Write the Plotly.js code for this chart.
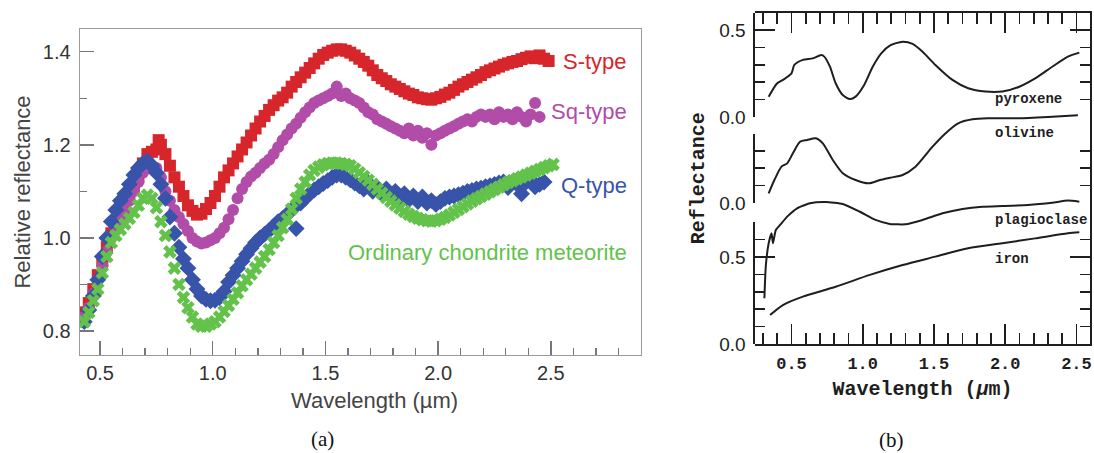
<!DOCTYPE html>
<html>
<head>
<meta charset="utf-8">
<script src="https://cdn.plot.ly/plotly-3.0.1.min.js"></script>
<style>html,body{margin:0;padding:0;background:#fff;}#chart{width:1094px;height:453px;}</style>
</head>
<body>
<div id="chart"></div>
<script>
// ---------- Panel (a): asteroid / meteorite spectra ----------
const sWave = [0.43,0.45,0.47,0.49,0.51,0.53,0.55,0.57,0.59,0.61,
  0.63,0.65,0.67,0.69,0.71,0.73,0.75,0.76,0.77,0.79,
  0.81,0.83,0.85,0.87,0.89,0.91,0.93,0.95,0.97,0.99,
  1.01,1.03,1.05,1.07,1.09,1.11,1.13,1.15,1.17,1.19,
  1.21,1.23,1.25,1.27,1.29,1.31,1.33,1.35,1.37,1.39,
  1.41,1.43,1.45,1.47,1.49,1.51,1.53,1.55,1.57,1.59,
  1.61,1.63,1.65,1.67,1.69,1.71,1.73,1.75,1.77,1.79,
  1.81,1.83,1.85,1.87,1.89,1.91,1.93,1.95,1.97,1.99,
  2.01,2.03,2.05,2.07,2.09,2.11,2.13,2.15,2.17,2.19,
  2.21,2.23,2.25,2.27,2.29,2.31,2.33,2.35,2.37,2.39,
  2.41,2.43,2.45,2.47,2.49];
const sRefl = [0.84,0.86,0.89,0.92,0.95,0.98,1.01,1.03,1.05,1.07,
  1.09,1.11,1.13,1.16,1.18,1.185,1.19,1.21,1.20,1.18,
  1.155,1.13,1.11,1.09,1.07,1.058,1.05,1.052,1.062,1.075,
  1.09,1.11,1.13,1.145,1.16,1.175,1.19,1.205,1.22,1.235,
  1.25,1.262,1.275,1.285,1.295,1.302,1.312,1.325,1.335,1.345,
  1.355,1.365,1.375,1.385,1.393,1.398,1.402,1.405,1.405,1.402,
  1.398,1.392,1.385,1.378,1.37,1.36,1.35,1.343,1.337,1.33,
  1.325,1.32,1.315,1.31,1.307,1.302,1.30,1.298,1.297,1.30,
  1.303,1.308,1.312,1.318,1.325,1.33,1.335,1.34,1.345,1.35,
  1.356,1.36,1.364,1.368,1.372,1.375,1.378,1.38,1.384,1.387,
  1.39,1.386,1.392,1.385,1.38];

const sqWave = [0.43,0.45,0.47,0.49,0.51,0.53,0.55,0.57,0.59,0.61,
  0.63,0.65,0.67,0.69,0.71,0.73,0.75,0.77,0.79,0.81,
  0.83,0.85,0.87,0.89,0.91,0.93,0.95,0.97,0.99,1.01,
  1.03,1.05,1.07,1.09,1.11,1.13,1.15,1.17,1.19,1.21,
  1.23,1.25,1.27,1.29,1.31,1.33,1.35,1.37,1.39,1.41,
  1.43,1.45,1.47,1.49,1.51,1.53,1.55,1.57,1.59,1.61,
  1.63,1.65,1.67,1.69,1.71,1.73,1.75,1.77,1.79,1.81,
  1.83,1.85,1.87,1.89,1.91,1.93,1.95,1.97,1.99,2.01,
  2.03,2.05,2.07,2.09,2.11,2.13,2.15,2.17,2.19,2.21,
  2.23,2.25,2.27,2.29,2.31,2.33,2.35,2.37,2.39,2.41,
  2.43,2.45];
const sqRefl = [0.83,0.85,0.88,0.91,0.94,0.97,1.00,1.02,1.04,1.06,
  1.08,1.10,1.12,1.14,1.15,1.155,1.15,1.13,1.10,1.08,
  1.06,1.045,1.03,1.015,1.00,0.992,0.988,0.99,0.995,1.0,
  1.01,1.022,1.04,1.06,1.085,1.105,1.12,1.132,1.14,1.15,
  1.16,1.168,1.18,1.195,1.21,1.222,1.235,1.245,1.258,1.27,
  1.28,1.29,1.295,1.30,1.305,1.31,1.325,1.305,1.31,1.30,
  1.295,1.29,1.28,1.27,1.265,1.255,1.25,1.245,1.24,1.235,
  1.23,1.225,1.235,1.22,1.23,1.215,1.225,1.20,1.22,1.225,
  1.23,1.235,1.24,1.245,1.25,1.255,1.25,1.26,1.265,1.26,
  1.265,1.255,1.27,1.26,1.265,1.255,1.27,1.26,1.25,1.265,
  1.29,1.26];

const qWave = [0.43,0.45,0.47,0.49,0.51,0.53,0.55,0.57,0.59,0.61,
  0.63,0.65,0.67,0.69,0.71,0.73,0.75,0.77,0.79,0.81,
  0.83,0.85,0.87,0.89,0.91,0.93,0.95,0.97,0.99,1.01,
  1.03,1.05,1.07,1.09,1.11,1.13,1.15,1.17,1.19,1.21,
  1.23,1.25,1.27,1.29,1.31,1.33,1.35,1.37,1.39,1.41,
  1.43,1.45,1.47,1.49,1.51,1.53,1.55,1.57,1.59,1.61,
  1.63,1.65,1.67,1.69,1.71,1.73,1.75,1.77,1.79,1.81,
  1.83,1.85,1.87,1.89,1.91,1.93,1.95,1.97,1.99,2.01,
  2.03,2.05,2.07,2.09,2.11,2.13,2.15,2.17,2.19,2.21,
  2.23,2.25,2.27,2.29,2.31,2.33,2.35,2.37,2.39,2.41,
  2.43,2.45,2.47];
const qRefl = [0.82,0.845,0.875,0.91,0.96,1.0,1.035,1.06,1.08,1.095,
  1.115,1.135,1.15,1.16,1.165,1.155,1.14,1.115,1.085,1.045,
  1.01,0.98,0.955,0.935,0.91,0.89,0.875,0.868,0.865,0.866,
  0.872,0.885,0.905,0.92,0.935,0.95,0.965,0.978,0.99,1.0,
  1.008,1.016,1.025,1.035,1.042,1.05,1.06,1.02,1.075,1.085,
  1.095,1.103,1.11,1.117,1.123,1.13,1.135,1.135,1.13,1.125,
  1.118,1.112,1.105,1.118,1.10,1.108,1.095,1.105,1.09,1.10,
  1.088,1.095,1.082,1.09,1.078,1.088,1.075,1.08,1.072,1.078,
  1.085,1.088,1.09,1.093,1.096,1.10,1.102,1.105,1.107,1.11,
  1.112,1.115,1.118,1.12,1.108,1.12,1.115,1.095,1.12,1.125,
  1.11,1.115,1.12];

const ocWave = [0.43,0.45,0.47,0.49,0.51,0.53,0.55,0.57,0.59,0.61,
  0.63,0.65,0.67,0.69,0.71,0.73,0.75,0.77,0.79,0.81,
  0.83,0.85,0.87,0.89,0.91,0.93,0.95,0.97,0.99,1.01,
  1.03,1.05,1.07,1.09,1.11,1.13,1.15,1.17,1.19,1.21,
  1.23,1.25,1.27,1.29,1.31,1.33,1.35,1.37,1.39,1.41,
  1.43,1.45,1.47,1.49,1.51,1.53,1.55,1.57,1.59,1.61,
  1.63,1.65,1.67,1.69,1.71,1.73,1.75,1.77,1.79,1.81,
  1.83,1.85,1.87,1.89,1.91,1.93,1.95,1.97,1.99,2.01,
  2.03,2.05,2.07,2.09,2.11,2.13,2.15,2.17,2.19,2.21,
  2.23,2.25,2.27,2.29,2.31,2.33,2.35,2.37,2.39,2.41,
  2.43,2.45,2.47,2.49,2.51];
const ocRefl = [0.82,0.84,0.865,0.89,0.925,0.96,0.99,1.005,1.018,1.03,
  1.042,1.055,1.07,1.085,1.092,1.085,1.065,1.035,1.005,0.97,
  0.935,0.90,0.872,0.85,0.83,0.815,0.81,0.81,0.815,0.82,
  0.83,0.842,0.855,0.868,0.882,0.897,0.91,0.922,0.935,0.948,
  0.96,0.975,0.99,1.005,1.022,1.04,1.062,1.085,1.105,1.12,
  1.135,1.145,1.152,1.157,1.16,1.161,1.161,1.16,1.158,1.155,
  1.148,1.14,1.132,1.124,1.115,1.105,1.096,1.087,1.079,1.071,
  1.064,1.057,1.051,1.046,1.042,1.039,1.037,1.036,1.037,1.04,
  1.044,1.049,1.055,1.061,1.067,1.073,1.079,1.084,1.089,1.094,
  1.099,1.104,1.109,1.114,1.119,1.123,1.127,1.131,1.135,1.139,
  1.143,1.147,1.151,1.155,1.158];
const sqErr = 0.012;

// ---------- Panel (b): laboratory mineral spectra ----------
const pyxWave = [0.34,0.40,0.44,0.50,0.52,0.58,0.65,0.71,0.73,0.77,0.81,0.86,0.91,0.95,1.01,1.07,1.13,1.19,1.28,1.35,1.42,1.51,1.63,1.74,1.86,1.98,2.09,2.21,2.33,2.44,2.52];
const pyxRefl = [0.117,0.194,0.213,0.251,0.299,0.328,0.337,0.356,0.347,0.289,0.194,0.126,0.103,0.117,0.184,0.289,0.366,0.41,0.433,0.42,0.375,0.299,0.213,0.165,0.146,0.146,0.171,0.222,0.289,0.347,0.37];
const olWave = [0.34,0.38,0.43,0.47,0.51,0.56,0.61,0.67,0.72,0.79,0.86,0.95,1.04,1.12,1.19,1.28,1.37,1.49,1.58,1.67,1.77,1.88,2.09,2.33,2.51];
const olRefl = [0.056,0.132,0.209,0.228,0.286,0.352,0.362,0.372,0.343,0.247,0.171,0.132,0.113,0.132,0.145,0.161,0.209,0.324,0.40,0.458,0.481,0.487,0.487,0.496,0.504];
const plWave = [0.31,0.32,0.34,0.36,0.37,0.39,0.42,0.47,0.54,0.63,0.74,0.86,0.98,1.09,1.19,1.30,1.42,1.56,1.70,1.84,1.98,2.16,2.33,2.44,2.52];
const plRefl = [0.263,0.45,0.579,0.636,0.579,0.655,0.684,0.732,0.78,0.809,0.816,0.805,0.76,0.713,0.69,0.688,0.713,0.751,0.776,0.789,0.793,0.799,0.812,0.824,0.818];
const feWave = [0.35,0.44,0.58,0.81,1.05,1.28,1.51,1.74,1.98,2.21,2.44,2.52];
const feRefl = [0.167,0.224,0.272,0.329,0.397,0.454,0.502,0.55,0.579,0.607,0.636,0.642];

const seriesLabels = ['S-type','Sq-type','Q-type','Ordinary chondrite meteorite'];
const mineralLabels = ['pyroxene','olivine','plagioclase','iron'];

// ---------- styling ----------
const W = 1094, H = 453;
const px = v => v / W, py = v => 1 - v / H;
const SANS = 'Liberation Sans, Arial, Helvetica, sans-serif';
const MONO = 'Liberation Mono, Courier New, monospace';
const SERIF = 'Liberation Serif, Times New Roman, serif';
const cRed = '#d7262b', cMag = '#b24ca9', cBlue = '#3754aa', cGreen = '#63c24a';
const ink = '#1e1e1e';

const traces = [
  {x: sWave, y: sRefl, mode: 'markers', xaxis: 'x', yaxis: 'y', name: seriesLabels[0],
   marker: {symbol: 'square', size: 12, color: cRed}},
  {x: sqWave, y: sqRefl, mode: 'markers', xaxis: 'x', yaxis: 'y', name: seriesLabels[1],
   marker: {symbol: 'circle', size: 12, color: cMag},
   error_y: {type: 'constant', value: sqErr, thickness: 1, width: 0, color: 'rgba(178,76,169,0.6)'}},
  {x: qWave, y: qRefl, mode: 'markers', xaxis: 'x', yaxis: 'y', name: seriesLabels[2],
   marker: {symbol: 'diamond', size: 13, color: cBlue}},
  {x: ocWave, y: ocRefl, mode: 'markers', xaxis: 'x', yaxis: 'y', name: seriesLabels[3],
   marker: {symbol: 'x', size: 12, color: cGreen}},
  {x: pyxWave, y: pyxRefl, mode: 'lines', xaxis: 'x2', yaxis: 'y2', name: mineralLabels[0],
   line: {color: ink, width: 2, shape: 'spline', smoothing: 0.7}},
  {x: olWave, y: olRefl, mode: 'lines', xaxis: 'x2', yaxis: 'y3', name: mineralLabels[1],
   line: {color: ink, width: 2, shape: 'spline', smoothing: 0.7}},
  {x: plWave, y: plRefl, mode: 'lines', xaxis: 'x2', yaxis: 'y4', name: mineralLabels[2],
   line: {color: ink, width: 2, shape: 'spline', smoothing: 0.5}},
  {x: feWave, y: feRefl, mode: 'lines', xaxis: 'x2', yaxis: 'y4', name: mineralLabels[3],
   line: {color: ink, width: 2, shape: 'spline', smoothing: 0.7}},
  // empty traces that create the tick-only segment axes of panel (b)
  {x: [], y: [], xaxis: 'x2', yaxis: 'y5', mode: 'lines', hoverinfo: 'skip'},
  {x: [], y: [], xaxis: 'x2', yaxis: 'y6', mode: 'lines', hoverinfo: 'skip'},
  {x: [], y: [], xaxis: 'x2', yaxis: 'y7', mode: 'lines', hoverinfo: 'skip'}
];

const bDomain = [py(344), py(12.5)];
const pxPerUnit = 174;
const hidden = {showline: false, showgrid: false, zeroline: false, showticklabels: false, ticks: ''};
const segAxis = (dom, rng, majors, minors) => ({
  domain: dom, range: rng, autorange: false, anchor: 'x2', side: 'left',
  showline: true, linecolor: ink, linewidth: 1.6, mirror: 'ticks',
  ticks: 'inside', ticklen: 20, tickwidth: 1.6, tickcolor: ink,
  tickmode: 'array', tickvals: majors, ticktext: majors.map(v => v.toFixed(1)),
  tickfont: {family: SANS, size: 19, color: ink}, ticklabelstandoff: 4,
  minor: {ticks: 'inside', ticklen: 10, tickwidth: 1.6, tickcolor: ink, tickmode: 'array', tickvals: minors},
  showgrid: false, zeroline: false
});

const layout = {
  width: W, height: H, margin: {l: 0, r: 0, t: 0, b: 0},
  paper_bgcolor: '#fff', plot_bgcolor: 'rgba(0,0,0,0)', showlegend: false,
  xaxis: {
    domain: [px(80), px(641)], range: [0.411, 2.9], autorange: false, anchor: 'y',
    showline: true, linecolor: '#9a9a9a', linewidth: 1.4, mirror: true,
    ticks: 'inside', ticklen: 14, tickwidth: 1.4, tickcolor: '#777',
    dtick: 0.5, tick0: 0, tickformat: '.1f',
    tickfont: {family: SANS, size: 20, color: '#333'}, ticklabelstandoff: 0,
    minor: {ticks: 'inside', ticklen: 7, tickwidth: 1.4, tickcolor: '#777', dtick: 0.1, tick0: 0},
    showgrid: false, zeroline: false
  },
  yaxis: {
    domain: [py(355), py(29)], range: [0.7484, 1.4488], autorange: false, anchor: 'x',
    showline: true, linecolor: '#9a9a9a', linewidth: 1.4, mirror: true,
    ticks: 'inside', ticklen: 14, tickwidth: 1.4, tickcolor: '#777',
    dtick: 0.2, tick0: 0, tickformat: '.1f',
    tickfont: {family: SANS, size: 20, color: '#333'}, ticklabelstandoff: 4,
    minor: {ticks: 'inside', ticklen: 7, tickwidth: 1.4, tickcolor: '#777', dtick: 0.1, tick0: 0},
    title: {text: 'Relative reflectance', font: {family: SANS, size: 22, color: '#444'}, standoff: 6},
    showgrid: false, zeroline: false
  },
  xaxis2: {
    domain: [px(755), px(1090)], range: [0.244, 2.595], autorange: false, anchor: 'y2',
    showline: true, linecolor: ink, linewidth: 1.6, mirror: 'ticks',
    ticks: 'inside', ticklen: 20, tickwidth: 1.6, tickcolor: ink,
    dtick: 0.5, tick0: 0, tickformat: '.1f',
    tickfont: {family: MONO, size: 17, color: ink, weight: 'bold'}, ticklabelstandoff: 3,
    minor: {ticks: 'inside', ticklen: 11, tickwidth: 1.6, tickcolor: ink, dtick: 0.1, tick0: 0},
    title: {text: 'Wavelength (<i>µ</i>m)', font: {family: MONO, size: 20, color: ink, weight: 'bold'}, standoff: 8},
    showgrid: false, zeroline: false
  },
  // curve axes of panel (b): same scale (174 px per unit), shifted zero points
  yaxis2: Object.assign({}, hidden, {domain: bDomain, anchor: 'x2', autorange: false,
    range: [-(344 - 117) / pxPerUnit, (117 - 12.5) / pxPerUnit],
    side: 'right', showline: true, linecolor: ink, linewidth: 1.6}),
  yaxis3: Object.assign({}, hidden, {domain: bDomain, anchor: 'x2', autorange: false,
    range: [-(344 - 203) / pxPerUnit, (203 - 12.5) / pxPerUnit], side: 'left',
    title: {text: 'Reflectance', font: {family: MONO, size: 20, color: ink, weight: 'bold'}, standoff: 44}}),
  yaxis4: Object.assign({}, hidden, {domain: bDomain, anchor: 'x2', autorange: false,
    range: [0, (344 - 12.5) / pxPerUnit]}),
  // tick-only segment axes
  yaxis5: segAxis([py(117), py(12.5)], [0, (117 - 12.5) / pxPerUnit], [0, 0.5], [0.1, 0.2, 0.3, 0.4]),
  yaxis6: segAxis([py(203), py(133.5)], [0, (203 - 133.5) / pxPerUnit], [0], [0.1, 0.2, 0.3, 0.4]),
  yaxis7: segAxis([py(344), py(221.7)], [0, (344 - 221.7) / pxPerUnit], [0, 0.5], [0.1, 0.2, 0.3, 0.4, 0.6, 0.7]),
  annotations: [
    {text: seriesLabels[0], x: px(628.5), y: py(61.5), xanchor: 'right', yanchor: 'middle'},
    {text: seriesLabels[1], x: px(628.5), y: py(111.5), xanchor: 'right', yanchor: 'middle'},
    {text: seriesLabels[2], x: px(628.5), y: py(185), xanchor: 'right', yanchor: 'middle'},
    {text: seriesLabels[3], x: px(628.5), y: py(253), xanchor: 'right', yanchor: 'middle'}
  ].map((a, i) => Object.assign(a, {xref: 'paper', yref: 'paper', showarrow: false,
    font: {family: SANS, size: 22, color: [cRed, cMag, cBlue, cGreen][i]}})).concat(
  [
    {text: mineralLabels[0], y: py(98.5)},
    {text: mineralLabels[1], y: py(133)},
    {text: mineralLabels[2], y: py(220.5)},
    {text: mineralLabels[3], y: py(259)}
  ].map(a => Object.assign(a, {x: px(992.5), xref: 'paper', yref: 'paper', xanchor: 'left', yanchor: 'middle',
    showarrow: false, font: {family: MONO, size: 14, color: ink, weight: 'bold'}})),
  [
    {text: 'Wavelength (µm)', x: px(374), y: py(400), font: {family: SANS, size: 22, color: '#444'}},
    {text: '(a)', x: px(322), y: py(439), font: {family: SERIF, size: 21, color: '#111'}},
    {text: '(b)', x: px(891), y: py(440), font: {family: SERIF, size: 21, color: '#111'}}
  ].map(a => Object.assign(a, {xref: 'paper', yref: 'paper', xanchor: 'center', yanchor: 'middle', showarrow: false})))
};

Plotly.newPlot('chart', traces, layout, {staticPlot: true, displayModeBar: false});
</script>
</body>
</html>
